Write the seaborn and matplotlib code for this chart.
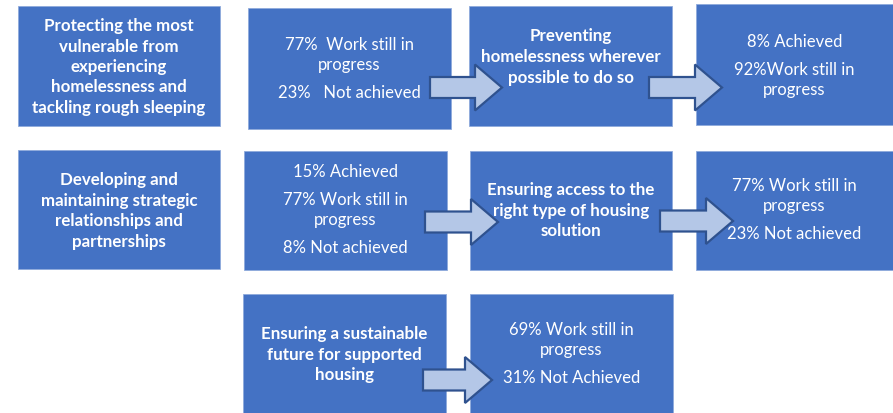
import matplotlib
matplotlib.use("Agg")
import matplotlib.pyplot as plt
from matplotlib.patches import Rectangle, FancyArrow
import seaborn as sns

# box texts: each box is a list of paragraphs, each paragraph a list of lines
themes = [
    [["Protecting the most", "vulnerable from", "experiencing", "homelessness and", "tackling rough sleeping"]],
    [["Preventing", "homelessness wherever", "possible to do so"]],
    [["Developing and", "maintaining strategic", "relationships and", "partnerships"]],
    [["Ensuring access to the", "right type of housing", "solution"]],
    [["Ensuring a sustainable", "future for supported", "housing"]],
]
results = [
    [["77%  Work still in", "progress"], ["23%   Not achieved"]],
    [["8% Achieved"], ["92%Work still in", "progress"]],
    [["15% Achieved"], ["77% Work still in", "progress"], ["8% Not achieved"]],
    [["77% Work still in", "progress"], ["23% Not achieved"]],
    [["69% Work still in", "progress"], ["31% Not Achieved"]],
]

# layout in pixels: (x0, y0, x1, y1, text centre y)
theme_boxes = [(18, 7, 220, 127, 67), (469, 7, 672, 127, 57), (18, 151, 220, 270, 211),
               (470, 152, 672, 271, 211), (243, 295, 446, 414, 355)]
result_boxes = [(248, 9, 451, 130, 69), (696, 5, 893, 126, 66), (244, 152, 447, 271, 210),
                (696, 152, 893, 271, 210), (470, 295, 673, 414, 354)]
# arrows: (x start, x tip, y centre)
arrows = [(430, 502, 88.5), (649, 722, 88.5), (425, 498, 223), (660, 733, 222), (423, 492, 381)]

sns.set_theme(style="white")
plt.rcParams["font.family"] = ["Lato", "DejaVu Sans"]

fig = plt.figure(figsize=(8.93, 4.14), dpi=100)
ax = fig.add_axes([0, 0, 1, 1])
ax.set_xlim(0, 893)
ax.set_ylim(414, 0)
ax.axis("off")

fill = "#4472C4"
LINE, PARA = 20.5, 28


def draw_box(box, paras, bold):
    x0, y0, x1, y1, cy = box
    ax.add_patch(Rectangle((x0, y0), x1 - x0, y1 - y0, facecolor=fill,
                           edgecolor="#8FAADC", lw=0.6, zorder=1))
    ys = []
    y = 0
    for i, p in enumerate(paras):
        if i:
            y += PARA - LINE
        for ln in p:
            ys.append((y, ln))
            y += LINE
    total = y - LINE
    for yy, ln in ys:
        ax.text((x0 + x1) / 2, cy - total / 2 + yy, ln, ha="center", va="center",
                color="white", fontsize=12.2 if bold else 12,
                fontweight="bold" if bold else "normal", zorder=3)


for box, t in zip(theme_boxes, themes):
    draw_box(box, t, True)
for box, t in zip(result_boxes, results):
    draw_box(box, t, False)

for xs, xe, yc in arrows:
    ax.add_patch(FancyArrow(xs, yc, xe - xs, 0, width=21, head_width=46, head_length=27,
                            length_includes_head=True, facecolor="#B4C7E7",
                            edgecolor="#2F528F", lw=1.6, zorder=2))

fig.savefig("out.png", dpi=100)
